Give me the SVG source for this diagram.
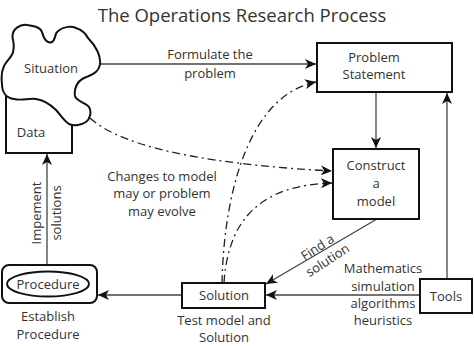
<svg xmlns="http://www.w3.org/2000/svg" width="474" height="346" viewBox="0 0 474 346">
<style>
text{font-family:"Open Sans","Noto Sans",sans-serif;font-size:13px;fill:#333;text-anchor:middle}
.box{fill:#fff;stroke:#111;stroke-width:2}
.ln{fill:none;stroke:#444;stroke-width:1.3}
.dd{fill:none;stroke:#222;stroke-width:1.3;stroke-dasharray:8 4 2 4}
</style>
<defs>
<marker id="ah" markerWidth="12" markerHeight="10" refX="11" refY="5" orient="auto" markerUnits="userSpaceOnUse">
<path d="M0,0 L11,5 L0,10 L3,5 Z" fill="#111"/>
</marker>
</defs>
<rect width="474" height="346" fill="#fff"/>
<text x="242" y="22" style="font-size:18.5px">The Operations Research Process</text>

<g id="connectors">
<line class="ln" x1="99" y1="64" x2="316" y2="64" marker-end="url(#ah)"/>
<line class="ln" x1="376" y1="92" x2="376" y2="148" marker-end="url(#ah)"/>
<line class="ln" x1="447" y1="279" x2="447" y2="93" marker-end="url(#ah)"/>
<line class="ln" x1="420" y1="295" x2="266" y2="295" marker-end="url(#ah)"/>
<line class="ln" x1="377" y1="219" x2="266" y2="284" marker-end="url(#ah)"/>
<line class="ln" x1="182" y1="295" x2="98" y2="295" marker-end="url(#ah)"/>
<line class="ln" x1="47" y1="265" x2="47" y2="154" marker-end="url(#ah)"/>
<path class="dd" d="M90,118 C125,150 220,165 332,171" marker-end="url(#ah)"/>
<path class="dd" d="M222,283 C224,190 250,95 316,82" marker-end="url(#ah)"/>
<path class="dd" d="M224,283 C228,220 260,185 332,183" marker-end="url(#ah)"/>
</g>

<g id="data">
<rect class="box" x="6" y="90" width="66" height="63"/>
<text x="31" y="137">Data</text>
</g>
<g id="situation">
<path class="box" d="M13,40 C10,28 22,24 27,25 C34,26 40,27 42,32 C44,40 48,44 52,42 C56,40 54,34 58,31 C64,26 72,26 76,28 C82,30 86,34 88,38 C96,46 101,56 100,64 C99,72 92,75 84,78 C76,82 74,90 75,96 C76,101 86,103 89,107 C92,112 90,119 86,122 C80,126 73,126 69,124 C63,120 60,114 56,110 C50,104 44,100 36,99 C28,98 22,101 14,99 C6,98 2,92 2,84 C1,76 2,70 4,66 C7,60 12,57 13,52 C14,48 14,44 13,40 Z"/>
<text x="51" y="73">Situation</text>
</g>
<g id="problem">
<rect class="box" x="317" y="43" width="135" height="49"/>
<text x="374" y="62">Problem</text>
<text x="374" y="79">Statement</text>
</g>
<g id="model">
<rect class="box" x="333" y="149" width="86" height="70"/>
<text x="376" y="170">Construct</text>
<text x="376" y="188">a</text>
<text x="376" y="206">model</text>
</g>
<g id="tools">
<rect class="box" x="420" y="279" width="52" height="34"/>
<text x="446" y="301">Tools</text>
</g>
<g id="solution">
<rect class="box" x="182" y="283" width="83" height="25"/>
<text x="224" y="300">Solution</text>
</g>
<g id="procedure">
<rect class="box" x="2" y="265" width="95" height="38" rx="7"/>
<ellipse cx="48" cy="284" rx="41" ry="12.5" fill="none" stroke="#111" stroke-width="2"/>
<text x="48" y="289">Procedure</text>
</g>

<g id="labels">
<text x="210" y="59">Formulate the</text>
<text x="210" y="78">problem</text>
<text x="162" y="181">Changes to model</text>
<text x="162" y="198">may or problem</text>
<text x="162" y="216">may evolve</text>
<text transform="translate(320,251) rotate(-33)">Find a</text>
<text transform="translate(330,264) rotate(-33)">solution</text>
<text x="383" y="273">Mathematics</text>
<text x="383" y="291">simulation</text>
<text x="383" y="308">algorithms</text>
<text x="383" y="325">heuristics</text>
<text x="224" y="325">Test model and</text>
<text x="224" y="342">Solution</text>
<text x="48" y="321">Establish</text>
<text x="48" y="339">Procedure</text>
<text transform="translate(41,213) rotate(-90)">Impement</text>
<text transform="translate(61,213) rotate(-90)">solutions</text>
</g>
</svg>
